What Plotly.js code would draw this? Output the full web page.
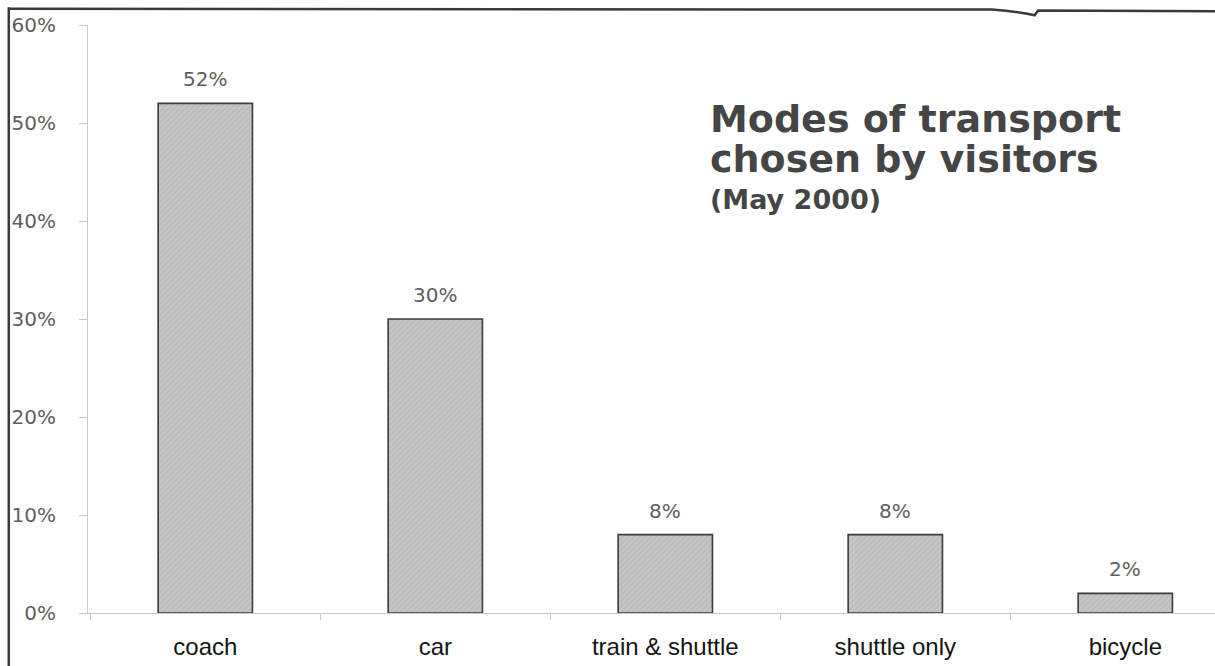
<!DOCTYPE html>
<html>
<head>
<meta charset="utf-8">
<script src="https://cdn.plot.ly/plotly-3.0.1.min.js"></script>
<style>
  html, body { margin: 0; padding: 0; background: #ffffff; }
  #chart { width: 1215px; height: 666px; }
</style>
</head>
<body>
<div id="chart"></div>
<script>
// Share of visitors by mode of transport, May 2000
const modes = ["coach", "car", "train &amp; shuttle", "shuttle only", "bicycle"];
const shares = [52, 30, 8, 8, 2];
const yTickValues = [0, 10, 20, 30, 40, 50, 60];
const yTickLabels = ["0%", "10%", "20%", "30%", "40%", "50%", "60%"];
const titleLines = ["Modes of transport", "chosen by visitors"];
const subtitle = "(May 2000)";

const labelFont = { family: "'DejaVu Sans', sans-serif", size: 20, color: "#5e5e5e" };
const headFamily = "'DejaVu Sans', 'Liberation Sans', sans-serif";

const bars = {
  type: "bar",
  x: modes,
  y: shares,
  width: 0.41,
  marker: {
    color: "#c2c2c2",
    line: { color: "#3c3c3c", width: 1.6 },
    pattern: { shape: "/", fgcolor: "#b0b0b0", bgcolor: "#c4c4c4", size: 4, solidity: 0.22 }
  },
  hoverinfo: "x+y"
};

// value labels sit above each bar
const valueNotes = modes.map((m, i) => ({
  x: m, y: shares[i], xref: "x", yref: "y",
  text: shares[i] + "%", showarrow: false,
  yanchor: "bottom", yshift: 10,
  font: labelFont
}));

// heading block in the upper right of the plot
const headNotes = [
  { text: titleLines[0], y: 0.840, size: 38 },
  { text: titleLines[1], y: 0.772, size: 38 },
  { text: subtitle, y: 0.704, size: 27 }
].map(h => ({
  text: "<b>" + h.text + "</b>", showarrow: false,
  xref: "paper", x: 0.5502, xanchor: "left",
  yref: "paper", y: h.y, yanchor: "middle",
  font: { family: headFamily, size: h.size, color: "#454545" }
}));

const layout = {
  width: 1215, height: 666,
  margin: { l: 88, r: 0, t: 25, b: 53 },
  paper_bgcolor: "#ffffff",
  plot_bgcolor: "#ffffff",
  showlegend: false,
  xaxis: {
    type: "category",
    range: [-0.51, 4.39],
    showline: true, linecolor: "#c8c8c8", linewidth: 1,
    ticks: "outside", tickson: "boundaries", ticklen: 6, tickcolor: "#c8c8c8",
    ticklabelstandoff: 12,
    tickfont: { family: "'Liberation Sans', Arial, sans-serif", size: 24, color: "#151515" },
    showgrid: false, zeroline: false, fixedrange: true
  },
  yaxis: {
    range: [0, 60],
    tickvals: yTickValues, ticktext: yTickLabels,
    showline: true, linecolor: "#c8c8c8", linewidth: 1,
    ticks: "outside", ticklen: 8, tickcolor: "#c8c8c8",
    ticklabelstandoff: 19,
    tickfont: labelFont,
    showgrid: false, zeroline: false, fixedrange: true
  },
  annotations: valueNotes.concat(headNotes),
  shapes: [
    // page edge on the left and top, with a small fold near the top right
    { type: "line", xref: "paper", yref: "paper", x0: -0.0703, x1: -0.0703, y0: -0.1, y1: 1.03,
      line: { color: "#3a3a3a", width: 2.5 } },
    { type: "path", xref: "paper", yref: "paper",
      path: "M -0.0703 1.0276 L 0.802 1.0262 Q 0.825 1.023 0.840 1.0165 L 0.843 1.0245 L 1.0 1.0235",
      line: { color: "#3a3a3a", width: 2.5 } }
  ]
};

Plotly.newPlot("chart", [bars], layout, { displayModeBar: false, staticPlot: true });
</script>
</body>
</html>
